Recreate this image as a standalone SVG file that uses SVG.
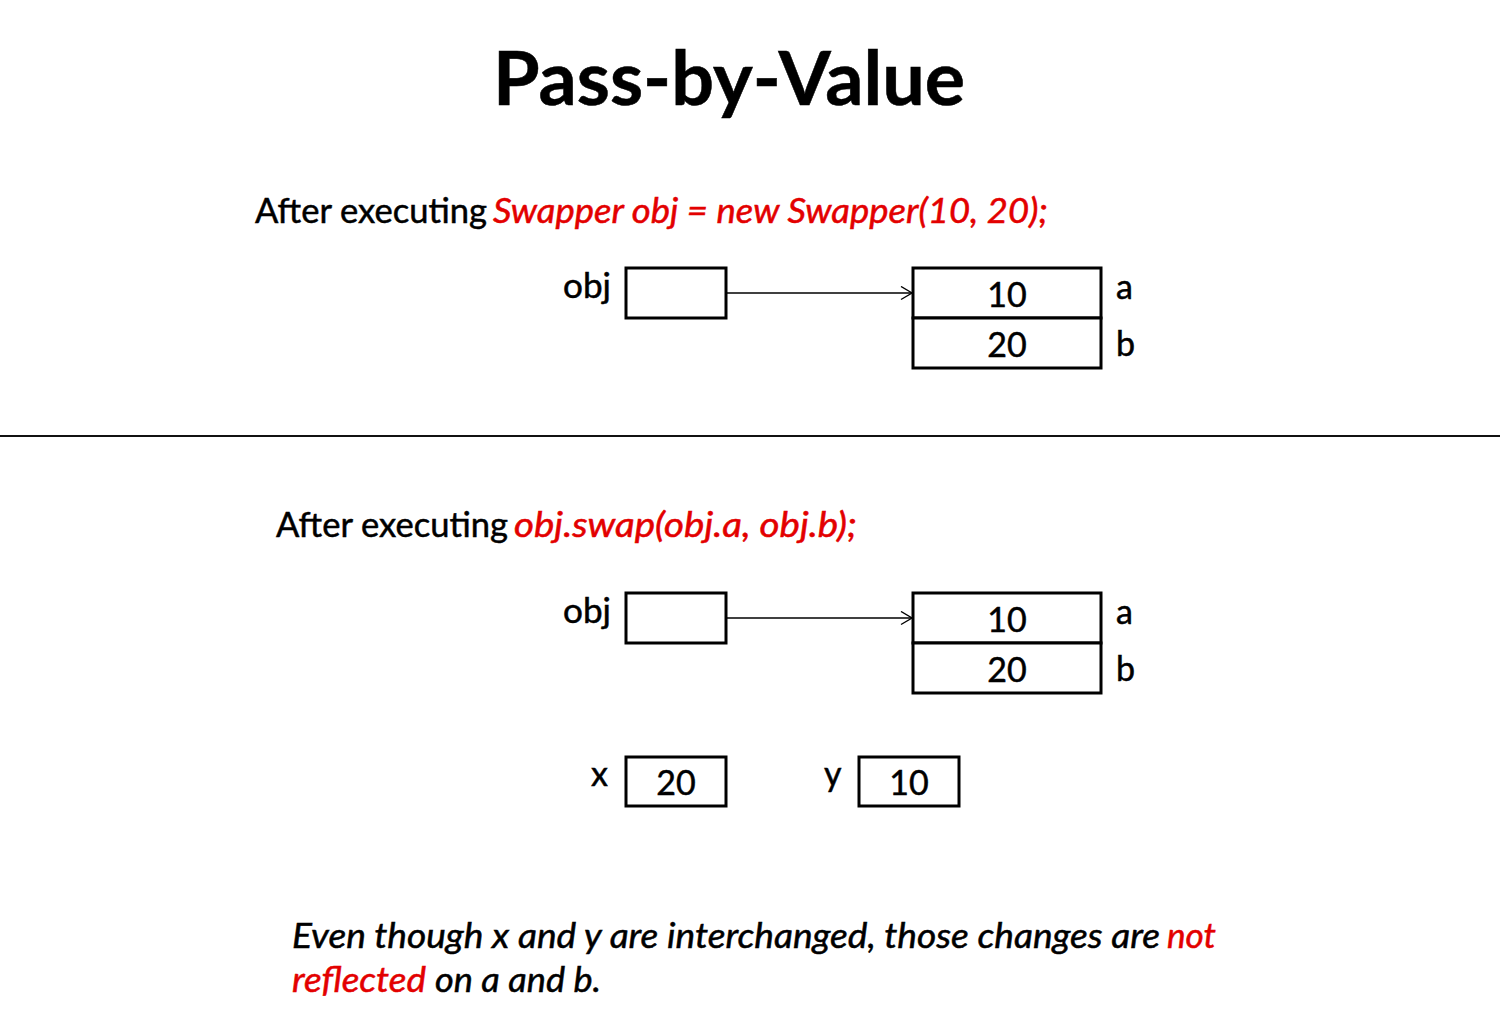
<svg xmlns="http://www.w3.org/2000/svg" width="1502" height="1013" viewBox="0 0 1502 1013">
<style>
text{font-family:Lato,"Open Sans","Liberation Sans",sans-serif;fill:#000;stroke:#000;stroke-width:0.5}
.t{font-size:34px}
.red{fill:#e30000;stroke:#e30000}
.it{font-style:italic}
.box{fill:#fff;stroke:#000;stroke-width:3}
.c{text-anchor:middle}
.conn{stroke:#000;stroke-width:1.3;fill:none}
</style>
<defs>
<marker id="arr" markerWidth="16" markerHeight="16" refX="12" refY="7" orient="auto" markerUnits="userSpaceOnUse">
<path d="M1,0.5 L12,7 L1,13.5" fill="none" stroke="#000" stroke-width="1.4"/>
</marker>
</defs>
<rect width="1502" height="1013" fill="#fff"/>
<g id="title"><text x="493" y="105" font-size="74" font-weight="bold" textLength="472" lengthAdjust="spacingAndGlyphs">Pass-by-Value</text></g>

<g id="heading1">
<text class="t" x="255" y="223" textLength="232" lengthAdjust="spacingAndGlyphs">After executing</text>
<text class="t red it" x="493" y="223" textLength="555" lengthAdjust="spacingAndGlyphs">Swapper obj = new Swapper(10, 20);</text>
</g>

<g id="obj1">
<text class="t" x="563" y="298" textLength="48" lengthAdjust="spacingAndGlyphs">obj</text>
<rect class="box" x="626" y="268" width="100" height="50"/>
</g>
<g id="swapper1">
<rect class="box" x="913" y="268" width="188" height="50"/>
<rect class="box" x="913" y="318" width="188" height="50"/>
<text class="t c" x="1007" y="307">10</text>
<text class="t c" x="1007" y="357">20</text>
<text class="t" x="1116" y="299">a</text>
<text class="t" x="1116" y="356">b</text>
</g>

<g id="divider"><line x1="0" y1="436" x2="1500" y2="436" stroke="#111" stroke-width="2"/></g>

<g id="heading2">
<text class="t" x="276" y="537" textLength="232" lengthAdjust="spacingAndGlyphs">After executing</text>
<text class="t red it" x="514" y="537" textLength="343" lengthAdjust="spacingAndGlyphs">obj.swap(obj.a, obj.b);</text>
</g>

<g id="obj2">
<text class="t" x="563" y="623" textLength="48" lengthAdjust="spacingAndGlyphs">obj</text>
<rect class="box" x="626" y="593" width="100" height="50"/>
</g>
<g id="swapper2">
<rect class="box" x="913" y="593" width="188" height="50"/>
<rect class="box" x="913" y="643" width="188" height="50"/>
<text class="t c" x="1007" y="632">10</text>
<text class="t c" x="1007" y="682">20</text>
<text class="t" x="1116" y="624">a</text>
<text class="t" x="1116" y="681">b</text>
</g>

<g id="varx">
<text class="t" x="591" y="786">x</text>
<rect class="box" x="626" y="757" width="100" height="49"/>
<text class="t c" x="676" y="795">20</text>
</g>
<g id="vary">
<text class="t" x="824" y="786">y</text>
<rect class="box" x="859" y="757" width="100" height="49"/>
<text class="t c" x="909" y="795">10</text>
</g>

<g id="connectors">
<line class="conn" x1="727" y1="293" x2="912" y2="293" marker-end="url(#arr)"/>
<line class="conn" x1="727" y1="618" x2="912" y2="618" marker-end="url(#arr)"/>
</g>

<g id="note">
<text class="t it" x="292" y="948" textLength="868" lengthAdjust="spacingAndGlyphs">Even though x and y are interchanged, those changes are</text>
<text class="t it red" x="1167" y="948" textLength="49" lengthAdjust="spacingAndGlyphs">not</text>
<text class="t it red" x="292" y="992" textLength="134" lengthAdjust="spacingAndGlyphs">reflected</text>
<text class="t it" x="435" y="992" textLength="166" lengthAdjust="spacingAndGlyphs">on a and b.</text>
</g>
</svg>
